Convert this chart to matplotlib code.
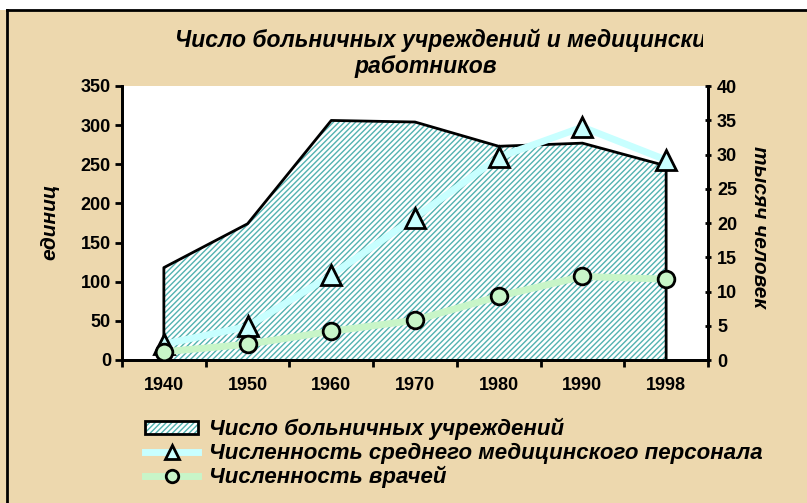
import matplotlib
matplotlib.use('Agg')
import matplotlib.pyplot as plt
from matplotlib.patches import Rectangle, Patch
from matplotlib.lines import Line2D
from matplotlib.transforms import Bbox
from matplotlib.legend_handler import HandlerTuple

years = ['1940', '1950', '1960', '1970', '1980', '1990', '1998']
hospitals = [118, 174, 306, 304, 273, 277, 248]      # единиц (левая ось)
nurses = [2.3, 4.9, 12.4, 20.8, 29.6, 34.0, 29.2]    # тыс. человек (правая ось)
doctors = [1.2, 2.3, 4.2, 5.8, 9.3, 12.2, 11.8]      # тыс. человек (правая ось)

W, H = 807, 503
plt.rcParams['font.family'] = ['Liberation Sans', 'DejaVu Sans']
plt.rcParams['hatch.linewidth'] = 1.0

fig = plt.figure(figsize=(W / 100, H / 100), dpi=100, facecolor='white')

# фон-пергамент и рамка
fig.patches.append(Rectangle((0, 0), 1, (H - 10) / H, transform=fig.transFigure,
                             facecolor='#edd8ae', edgecolor='none', zorder=-5))
fig.add_artist(Line2D([7 / W, 1], [(H - 10) / H] * 2, color='black', lw=2, zorder=-4))
fig.add_artist(Line2D([7 / W] * 2, [0, (H - 10) / H], color='black', lw=2, zorder=-4))

ax = fig.add_axes([122 / W, (H - 360) / H, 586 / W, 274 / H])
ax.set_facecolor('white')
ax2 = ax.twinx()

x = list(range(len(years)))
teal = '#52b2b0'
ax.fill_between(x, 0, hospitals, facecolor='white', edgecolor=teal,
                hatch='//////', linewidth=0, zorder=1)
ax.plot([0] + x + [x[-1]], [0] + hospitals + [0], color='black', lw=2, zorder=2)

cyan = '#c8ffff'
green = '#c8f5c8'
ax2.plot(x, nurses, color=cyan, lw=5, marker='^', markersize=14,
         markerfacecolor=cyan, markeredgecolor='black', markeredgewidth=2, zorder=3)
ax2.plot(x, doctors, color=green, lw=5, marker='o', markersize=12,
         markerfacecolor=green, markeredgecolor='black', markeredgewidth=2, zorder=3)

ax.set_xlim(-0.5, 6.5)
ax.set_ylim(0, 350)
ax2.set_ylim(0, 40)
ax.set_yticks(range(0, 351, 50))
ax2.set_yticks(range(0, 41, 5))
ax.set_xticks([i + 0.5 for i in range(-1, 7)])
ax.set_xticklabels([])
ax.set_xticks(x, minor=True)
ax.set_xticklabels(years, minor=True)
ax.tick_params(axis='x', which='minor', length=0, pad=12)
ax.tick_params(axis='x', which='major', length=5, width=2, direction='out')
ax.tick_params(axis='y', length=5, width=2, direction='out', pad=3)
ax2.tick_params(axis='y', length=5, width=2, direction='inout', pad=4)

for a in (ax, ax2):
    for lab in a.get_yticklabels() + a.get_xticklabels(minor=True):
        lab.set_fontsize(13)
        lab.set_fontweight('bold')
    for s in a.spines.values():
        s.set_linewidth(2)
    a.spines['top'].set_visible(False)
ax2.set_zorder(ax.get_zorder() + 1)
ax2.patch.set_visible(False)

lab_font = dict(fontsize=15, fontweight='bold', fontstyle='italic')
fig.text(50 / W, 1 - 222 / H, 'единиц', rotation=90, ha='center', va='center', **lab_font)
fig.text(760 / W, 1 - 227 / H, 'тысяч человек', rotation=270, ha='center', va='center', **lab_font)

t1 = fig.text(175 / W, 1 - 40 / H, 'Число больничных учреждений и медицинских',
              ha='left', va='center', fontsize=16.5, fontweight='bold', fontstyle='italic')
t1.set_clip_box(Bbox.from_extents(0, 0, 703, H))
t1.set_clip_on(True)
fig.text(426 / W, 1 - 67 / H, 'работников', ha='center', va='center',
         fontsize=16.5, fontweight='bold', fontstyle='italic')

handles = [
    (Patch(facecolor='white', edgecolor=teal, hatch='//////', lw=0),
     Patch(facecolor='none', edgecolor='black', lw=2)),
    Line2D([], [], color=cyan, lw=5, marker='^', markersize=10,
           markerfacecolor=cyan, markeredgecolor='black', markeredgewidth=2),
    Line2D([], [], color=green, lw=5, marker='o', markersize=9,
           markerfacecolor=green, markeredgecolor='black', markeredgewidth=2),
]
names = ['Число больничных учреждений',
         'Численность среднего медицинского персонала',
         'Численность врачей']
leg = fig.legend(handles, names, loc='upper left', bbox_to_anchor=(145 / W, 1 - 418 / H),
                 frameon=False, prop=dict(size=16, weight='bold', style='italic'),
                 handlelength=2.4, handletextpad=0.5, labelspacing=0.1,
                 borderaxespad=0, borderpad=0, handleheight=0.5,
                 handler_map={tuple: HandlerTuple(ndivide=1, pad=0)})

fig.savefig('out.png', dpi=100, facecolor=fig.get_facecolor())
